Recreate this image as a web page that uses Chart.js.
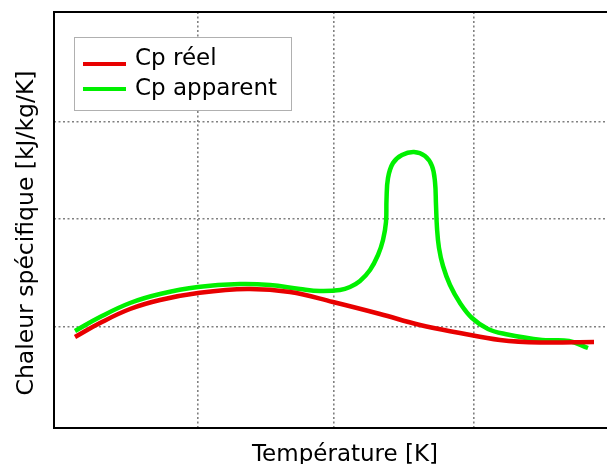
<!DOCTYPE html>
<html>
<head>
<meta charset="utf-8">
<script src="https://cdn.jsdelivr.net/npm/chart.js@4/dist/chart.umd.min.js"></script>
<style>
  html, body { margin: 0; padding: 0; background: #fff; overflow: hidden; }
  #wrap { width: 607px; height: 464px; overflow: hidden; }
</style>
</head>
<body>
<div id="wrap"><canvas id="myChart" width="640" height="464"></canvas></div>
<script>
// valeurs (unités arbitraires, pas de graduations)
const tReel = [0.21, 0.46, 0.76, 1.06, 1.44, 1.93, 2.36, 2.79, 3.26, 3.66, 4.06, 4.46, 4.86, 5.40];
const cpReel = [0.91, 1.05, 1.19, 1.28, 1.35, 1.39, 1.36, 1.26, 1.14, 1.03, 0.95, 0.88, 0.855, 0.86];

const tApparent = [0.21, 0.46, 0.76, 1.06, 1.44, 1.86, 2.16, 2.46, 2.66, 2.86, 2.96, 3.06, 3.16, 3.24, 3.29,
  3.32, 3.325, 3.34, 3.39, 3.48, 3.60, 3.71, 3.78, 3.81, 3.82, 3.83, 3.85, 3.89, 3.96, 4.06, 4.18, 4.34,
  4.51, 4.88, 5.15, 5.34];
const cpApparent = [0.97, 1.11, 1.25, 1.34, 1.41, 1.44, 1.43, 1.39, 1.37, 1.38, 1.41, 1.47, 1.58, 1.73, 1.88,
  2.06, 2.28, 2.50, 2.65, 2.73, 2.76, 2.72, 2.62, 2.46, 2.23, 2.00, 1.80, 1.62, 1.43, 1.25, 1.10, 0.99,
  0.94, 0.88, 0.87, 0.80];

const xGrid = [1.44, 2.80, 4.20];
const yGrid = [1.01, 2.09, 3.06];

const labels = ["Cp réel", "Cp apparent"];
const xTitle = "Température [K]";
const yTitle = "Chaleur spécifique [kJ/kg/K]";
const FONT = "'DejaVu Sans', 'Liberation Sans', sans-serif";

function toPoints(xs, ys) {
  return xs.map((x, i) => ({ x: x, y: ys[i] }));
}

// cadre noir, titres des axes et légende façon matplotlib
const framePlugin = {
  id: "frame",
  afterDraw(chart) {
    const c = chart.ctx, a = chart.chartArea;
    c.save();
    c.strokeStyle = "#000";
    c.lineWidth = 2;
    c.beginPath();
    c.moveTo(a.right, a.top);
    c.lineTo(a.left, a.top);
    c.lineTo(a.left, a.bottom);
    c.lineTo(a.right, a.bottom);
    c.stroke();

    // titres
    c.fillStyle = "#000";
    c.textAlign = "center";
    c.textBaseline = "alphabetic";
    c.font = "23px " + FONT;
    c.fillText(xTitle, (a.left + a.right) / 2, 461);
    c.save();
    c.translate(33, 233);
    c.rotate(-Math.PI / 2);
    c.font = "23.5px " + FONT;
    c.fillText(yTitle, 0, 0);
    c.restore();

    // légende
    c.fillStyle = "#fff";
    c.fillRect(74, 37, 217, 73);
    c.strokeStyle = "#b0b0b0";
    c.lineWidth = 1;
    c.strokeRect(74.5, 37.5, 217, 73);
    const rows = [64, 89];
    const textY = [59, 89];
    chart.data.datasets.forEach((ds, i) => {
      c.strokeStyle = ds.borderColor;
      c.lineWidth = 4;
      c.beginPath();
      c.moveTo(83, rows[i]);
      c.lineTo(126, rows[i]);
      c.stroke();
      c.fillStyle = "#000";
      c.font = "23px " + FONT;
      c.textBaseline = "middle";
      c.textAlign = "left";
      c.fillText(ds.label, 135, textY[i]);
    });
    c.restore();
  }
};

let ctx = document.getElementById("myChart").getContext("2d");
let myChart = new Chart(ctx, {
  type: "line",
  data: {
    datasets: [
      {
        label: labels[0],
        data: toPoints(tReel, cpReel),
        borderColor: "#e80000",
        borderWidth: 4.5,
        pointRadius: 0,
        tension: 0.4,
        fill: false,
      },
      {
        label: labels[1],
        data: toPoints(tApparent, cpApparent),
        borderColor: "#00f000",
        borderWidth: 4.5,
        pointRadius: 0,
        tension: 0.4,
        fill: false,
      },
    ],
  },
  options: {
    responsive: false,
    animation: false,
    layout: { padding: { top: 12, right: 4, left: 54, bottom: 36 } },
    plugins: {
      legend: { display: false },
      tooltip: { enabled: false },
    },
    scales: {
      x: {
        type: "linear",
        min: 0,
        max: 5.82,
        afterBuildTicks: (s) => { s.ticks = xGrid.map(v => ({ value: v })); },
        ticks: { display: false },
        border: { display: false, dash: [2, 2.5] },
        grid: { color: "#808080", lineWidth: 1.6, drawTicks: false },
      },
      y: {
        type: "linear",
        min: 0,
        max: 4.16,
        afterBuildTicks: (s) => { s.ticks = yGrid.map(v => ({ value: v })); },
        ticks: { display: false },
        border: { display: false, dash: [2, 2.5] },
        grid: { color: "#808080", lineWidth: 1.6, drawTicks: false },
      },
    },
  },
  plugins: [framePlugin],
});
</script>
</body>
</html>
